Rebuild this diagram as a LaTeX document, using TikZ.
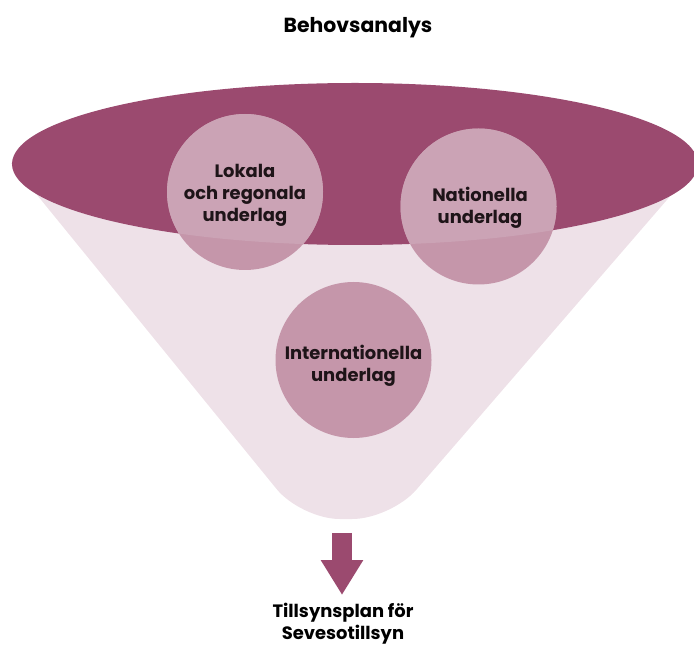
\documentclass[tikz,border=0pt]{standalone}
\usepackage{fontspec}
\setmainfont{Poppins}
\usepackage{xcolor}
\usetikzlibrary{arrows.meta}
\definecolor{trattmork}{HTML}{9B4A6F}
\definecolor{trattljus}{HTML}{EEE1E8}
\definecolor{bubbla}{HTML}{C596AA}
\definecolor{bubblaljus}{HTML}{CBA3B5}
\definecolor{textmork}{HTML}{1E1418}

\begin{document}
\begin{tikzpicture}[scale=0.2]
	\tikzstyle{every node}+=[inner sep=0pt]
	\tikzstyle{etikett}=[align=center, text=textmork, font=\bfseries\fontsize{10.2}{12.6}\selectfont]
	\tikzstyle{pil}=[trattmork, line width=11.4pt, -{Triangle[length=19.9pt,width=22.8pt]}]
	\useasboundingbox (0,0) rectangle (69.4,-64.8);
	% tratten
	\begin{scope}
		\clip (-5,-16.4) rectangle (75,-64.8);
		\fill [trattljus, rounded corners=22pt] (-2.4,-12.0) -- (30.1,-51.9) -- (39.1,-51.9) -- (73.6,-12.0) -- cycle;
	\end{scope}
	\fill [trattmork] (35.5,-16.4) ellipse (34.3 and 8.1);
	% bubblor
	\fill [bubbla] (24.5,-19.2) circle (7.8);
	\fill [bubbla] (47.85,-20.65) circle (7.8);
	\fill [bubbla] (35.35,-36.0) circle (7.8);
	\begin{scope}
		\clip (35.5,-16.4) ellipse (34.3 and 8.1);
		\fill [bubblaljus] (24.5,-19.2) circle (7.8);
		\fill [bubblaljus] (47.85,-20.65) circle (7.8);
	\end{scope}
	% texter
	\node [etikett, font=\bfseries\fontsize{11.6}{14}\selectfont, text=black] (rubrik) at (35.8,-2.8) {Behovsanalys};
	\node [etikett] (lokala) at (24.5,-19.5) {Lokala\\och regonala\\underlag};
	\node [etikett] (nationella) at (48.0,-20.8) {Nationella\\underlag};
	\node [etikett] (internationella) at (35.35,-36.6) {Internationella\\underlag};
	\node [etikett, text=black] (plan) at (34.3,-62.4) {Tillsynsplan för\\Sevesotillsyn};
	% pilen
	\coordinate (pilstart) at (34.2,-53.3);
	\coordinate (pilslut) at (34.2,-59.5);
	\draw [pil] (pilstart) -- (pilslut);
\end{tikzpicture}
\end{document}
